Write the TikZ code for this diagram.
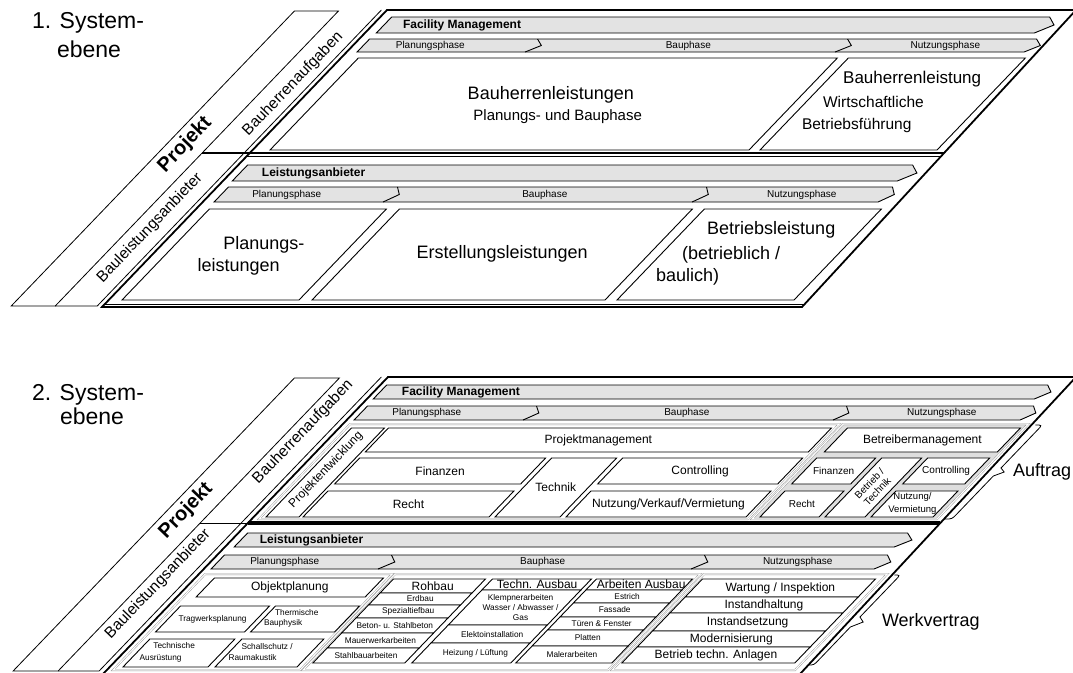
\documentclass[tikz,border=0pt]{standalone}
\usepackage{fontspec}
\setmainfont{Liberation Sans}
\newcommand\fsz[1]{\fontsize{#1}{#1}\selectfont}
% parallelogram cell in slanted coordinates: [style]{u left}{u right}{y top}{y bottom}
\newcommand\pbox[5][cell]{\draw[#1] (#2,#4) -- (#3,#4) -- (#3,#5) -- (#2,#5) -- cycle;}
% banner with pointed right end: {u left}{u right}{y top}{y bottom}{tip}
\newcommand\pbanner[5]{\draw[banner] (#1,#3) -- (#2,#3) -- ({#2+#5},{(#3+#4)/2}) -- (#2,#4) -- (#1,#4) -- cycle;}
% phase separator inside a banner: {u}{y top}{y bottom}{tip}
\newcommand\pchev[4]{\draw[chev] (#1,#2) -- ({#1+#4},{(#2+#3)/2}) -- (#1,#3);}
\tikzset{
  cell/.style={draw=black, line width=0.9pt, fill=white},
  banner/.style={draw=black, line width=0.9pt, fill=black!11},
  chev/.style={draw=black, line width=0.9pt},
  bandline/.style={draw=black, line width=0.8pt},
  frameline/.style={draw=black, line width=1.8pt},
  gframe/.style={draw=black!40, line width=0.45pt, double=white, double distance=1.1pt},
  brace/.style={draw=black, line width=0.8pt},
  txt/.style={inner sep=0pt, outer sep=0pt},
}
\begin{document}
\begin{tikzpicture}[x=1pt,y=-1pt]
\useasboundingbox (0,0) rectangle (1073,672);
\clip (0,0) rectangle (1073,672);

% ================= first system level =================
\node[txt, anchor=base west, font=\fsz{23}] (title1a) at (32,28) {1. System-};
\node[txt, anchor=base west, font=\fsz{23}] (title1b) at (57,57) {ebene};

\begin{scope}[xslant=0.96]
  \draw[bandline] (305,11) -- (349,11) -- (349,306) -- (305,306) -- cycle;
  \draw[bandline] (349,306) -- (391,306) -- (391,10);
  % client side
  \pbanner{408}{1066}{17}{33}{12}
  \pbanner{407}{1074}{39}{52}{10}
  \pchev{575}{39}{52}{10}
  \pchev{885}{39}{52}{10}
  \pbox{414}{893}{58}{150}
  \pbox{904}{1081}{58}{150}
  % contractor side
  \pbanner{406}{1071}{165}{181}{12}
  \pbanner{408}{1072}{187}{202}{9}
  \pchev{577}{187}{202}{9}
  \pchev{886}{187}{202}{9}
  \pbox{410}{587}{209}{300}
  \pbox{600}{893}{209}{300}
  \pbox{905}{1082}{209}{300}

  \node[txt, anchor=west, font=\bfseries\fsz{12}] (fm1) at (427,25) {Facility Management};
  \node[txt, font=\fsz{10}] (pp1a) at (474,45.5) {Planungsphase};
  \node[txt, font=\fsz{10}] (bp1a) at (732,45.5) {Bauphase};
  \node[txt, font=\fsz{10}] (np1a) at (989,45.5) {Nutzungsphase};
  \node[txt, font=\fsz{18}] (bhl1) at (642,95) {Bauherrenleistungen};
  \node[txt, font=\fsz{15}] (bhl1b) at (670,117) {Planungs- und Bauphase};
  \node[txt, anchor=west, font=\fsz{17}] (bhr1) at (919,79) {Bauherrenleistung};
  \node[txt, anchor=west, font=\fsz{15.5}] (bhr1b) at (921,102) {Wirtschaftliche};
  \node[txt, anchor=west, font=\fsz{15.5}] (bhr1c) at (922,125) {Betriebsführung};

  \node[txt, anchor=west, font=\bfseries\fsz{12}] (la1) at (428,173) {Leistungsanbieter};
  \node[txt, font=\fsz{10}] (pp1b) at (474,195) {Planungsphase};
  \node[txt, font=\fsz{10}] (bp1b) at (732,195) {Bauphase};
  \node[txt, font=\fsz{10}] (np1b) at (989,195) {Nutzungsphase};
  \node[txt, font=\fsz{18}] (pl1a) at (499,245) {Planungs-};
  \node[txt, font=\fsz{18}] (pl1b) at (495,267) {leistungen};
  \node[txt, font=\fsz{18}] (er1) at (746,254) {Erstellungsleistungen};
  \node[txt, anchor=west, font=\fsz{18}] (bl1a) at (928,230) {Betriebsleistung};
  \node[txt, anchor=west, font=\fsz{18}] (bl1b) at (927,255) {(betrieblich /};
  \node[txt, anchor=west, font=\fsz{18}] (bl1c) at (922,277) {baulich)};
\end{scope}

\draw[frameline] (387,10) -- (1076,10) -- (802,307) -- (102,307) -- cycle;
\draw[line width=2.2pt] (202,153) -- (944,153);
\draw[line width=0.7pt] (247,156.5) -- (941,156.5);
\draw[line width=0.7pt] (105,304) -- (805,304);

\node[txt, rotate=46.2, font=\bfseries\fsz{20}] (proj1) at (185,145) {Projekt};
\node[txt, rotate=46.2, font=\fsz{15.5}] (bha1) at (293,84) {Bauherrenaufgaben};
\node[txt, rotate=46.2, font=\fsz{15.5}] (bla1) at (150,228) {Bauleistungsanbieter};

% ================= second system level =================
\node[txt, anchor=base west, font=\fsz{23}] (title2a) at (32,400) {2. System-};
\node[txt, anchor=base west, font=\fsz{23}] (title2b) at (60,424) {ebene};

\begin{scope}[shift={(0,368)}, xslant=0.96]
  \draw[bandline] (304,10) -- (349,10) -- (349,303) -- (304,303) -- cycle;
  \draw[bandline] (349,303) -- (390,303) -- (390,9);
  \draw[bandline] (349,155) -- (397,155);

  % client side
  \pbanner{403}{1064}{17}{31}{10}
  \pbanner{404}{1070}{38}{52}{9}
  \pchev{573}{38}{52}{9}
  \pchev{883}{38}{52}{9}
  \draw[gframe] (404,56) -- (893,56) -- (893,151) -- (404,151) -- cycle;
  \draw[gframe, fill=black!13] (897,56) -- (1082,56) -- (1082,151) -- (897,151) -- cycle;
  \pbox{409}{442}{60}{149}
  \pbox{446}{889}{60}{84}
  \pbox{446}{632}{90}{116}
  \pbox{446}{632}{123}{149}
  \pbox{638}{703}{90}{149}
  \pbox{709}{889}{90}{116}
  \pbox{709}{889}{123}{149}
  \pbox{905}{1078}{60}{84}
  \pbox{903}{962}{90}{116}
  \pbox{903}{962}{123}{149}
  \pbox{968}{1008}{90}{149}
  \pbox{1014}{1076}{90}{116}
  \pbox{1014}{1076}{123}{149}

  % contractor side
  \pbanner{406}{1066}{165}{179}{11}
  \pbanner{404}{1067}{187}{201}{10}
  \pchev{571}{187}{201}{10}
  \pchev{884}{187}{201}{10}
  \draw[gframe] (403,206) -- (590,206) -- (590,302) -- (403,302) -- cycle;
  \draw[gframe] (593,206) -- (898,206) -- (898,302) -- (593,302) -- cycle;
  \draw[gframe] (902,206) -- (1085,206) -- (1085,302) -- (902,302) -- cycle;
  % planning
  \pbox{416}{585}{210}{229}
  \pbox{409}{498}{238}{264}
  \pbox{504}{588}{238}{264}
  \pbox{410}{495}{271}{299}
  \pbox{502}{584}{271}{299}
  % shell construction
  \pbox{596}{688}{211}{225}
  \pbox{596}{688}{225}{237}
  \pbox{596}{688}{237}{250}
  \pbox{596}{688}{250}{265}
  \pbox{596}{688}{265}{280}
  \pbox{596}{688}{280}{295}
  % building services
  \pbox{695}{794}{211}{222}
  \pbox{695}{794}{222}{257}
  \pbox{695}{794}{257}{275}
  \pbox{695}{794}{275}{295}
  % finishing works
  \pbox{799}{895}{211}{222}
  \pbox{799}{895}{222}{235}
  \pbox{799}{895}{235}{249}
  \pbox{799}{895}{249}{262}
  \pbox{799}{895}{262}{278}
  \pbox{799}{895}{278}{295}
  % operation
  \pbox{905}{1078}{211}{229}
  \pbox{905}{1078}{229}{245}
  \pbox{905}{1078}{245}{263}
  \pbox{905}{1078}{263}{279}
  \pbox{905}{1078}{279}{295}

  % braces
  \draw[brace] (1090,57) .. controls (1097,57) .. (1097,62) -- (1097,100) -- (1104,104) -- (1097,108) -- (1097,146) .. controls (1097,151) .. (1090,151);
  \draw[brace] (1093,207) .. controls (1099,207) .. (1099,212) -- (1099,249) -- (1107,254) -- (1099,259) -- (1099,292) .. controls (1099,297) .. (1093,297);

  \node[txt, anchor=west, font=\bfseries\fsz{12}] (fm2) at (425,24) {Facility Management};
  \node[txt, font=\fsz{10}] (pp2a) at (470,45) {Planungsphase};
  \node[txt, font=\fsz{10}] (bp2a) at (730,45) {Bauphase};
  \node[txt, font=\fsz{10}] (np2a) at (985,45) {Nutzungsphase};
  \node[txt, font=\fsz{12}] (pm2) at (667.5,72) {Projektmanagement};
  \node[txt, font=\fsz{12}] (fi2) at (539,103) {Finanzen};
  \node[txt, font=\fsz{12}] (re2) at (539,136) {Recht};
  \node[txt, font=\fsz{12}] (te2) at (670.5,119.5) {Technik};
  \node[txt, font=\fsz{12}] (co2) at (799,103) {Controlling};
  \node[txt, font=\fsz{12}] (nv2) at (799,136) {Nutzung/Verkauf/Vermietung};
  \node[txt, font=\fsz{12}] (bm2) at (991.5,72) {Betreibermanagement};
  \node[txt, font=\fsz{10}] (fi2b) at (932.5,103) {Finanzen};
  \node[txt, font=\fsz{10}] (re2b) at (932.5,136) {Recht};
  \node[txt, font=\fsz{10}] (co2b) at (1045,103) {Controlling};
  \node[txt, align=center, font=\fontsize{9.5}{13}\selectfont] (nv2b) at (1043,136) {Nutzung/\\Vermietung};
  \node[txt, rotate=46, align=center, font=\fontsize{10}{11}\selectfont] (bt2) at (988,119.5) {Betrieb /\\Technik};

  \node[txt, anchor=west, font=\bfseries\fsz{12}] (la2) at (425,172) {Leistungsanbieter};
  \node[txt, font=\fsz{10}] (pp2b) at (471,194) {Planungsphase};
  \node[txt, font=\fsz{10}] (bp2b) at (729,194) {Bauphase};
  \node[txt, font=\fsz{10}] (np2b) at (984,194) {Nutzungsphase};
  \node[txt, font=\fsz{12}] (op2) at (500.5,219.5) {Objektplanung};
  \node[txt, font=\fsz{8.3}] (tw2) at (453.5,251) {Tragwerksplanung};
  \node[txt, font=\fsz{8.3}] (th2a) at (532,245) {Thermische};
  \node[txt, font=\fsz{8.3}] (th2b) at (528,255) {Bauphysik};
  \node[txt, font=\fsz{8.3}] (ta2a) at (441,278) {Technische};
  \node[txt, font=\fsz{8.3}] (ta2b) at (439,290) {Ausrüstung};
  \node[txt, font=\fsz{8.3}] (ss2a) at (535,279) {Schallschutz /};
  \node[txt, font=\fsz{8.3}] (ss2b) at (531,290) {Raumakustik};

  \node[txt, font=\fsz{12}] (rb2) at (642,218) {Rohbau};
  \node[txt, font=\fsz{8.3}] (rb2a) at (642,231) {Erdbau};
  \node[txt, font=\fsz{8.3}] (rb2b) at (642,243.5) {Spezialtiefbau};
  \node[txt, font=\fsz{8.3}] (rb2c) at (642,257.5) {Beton- u. Stahlbeton};
  \node[txt, font=\fsz{8.3}] (rb2d) at (642,272.5) {Mauerwerkarbeiten};
  \node[txt, font=\fsz{8.3}] (rb2e) at (642,287.5) {Stahlbauarbeiten};

  \node[txt, font=\fsz{12}] (tb2) at (745,216.5) {Techn. Ausbau};
  \node[txt, align=center, font=\fontsize{8.3}{10}\selectfont] (tb2a) at (751,240) {Klempnerarbeiten\\Wasser / Abwasser /\\Gas};
  \node[txt, font=\fsz{8.3}] (tb2b) at (748,266.5) {Elektoinstallation};
  \node[txt, font=\fsz{8.3}] (tb2c) at (749,285) {Heizung / Lüftung};

  \node[txt, font=\fsz{12}] (ab2) at (849,216.5) {Arbeiten Ausbau};
  \node[txt, font=\fsz{8.3}] (ab2a) at (847,229) {Estrich};
  \node[txt, font=\fsz{8.3}] (ab2b) at (847,242) {Fassade};
  \node[txt, font=\fsz{8.3}] (ab2c) at (847,255.5) {Türen \& Fenster};
  \node[txt, font=\fsz{8.3}] (ab2d) at (847,270) {Platten};
  \node[txt, font=\fsz{8.3}] (ab2e) at (847,286.5) {Malerarbeiten};

  \node[txt, font=\fsz{12}] (wa2) at (991.5,220) {Wartung / Inspektion};
  \node[txt, font=\fsz{12}] (ih2) at (991.5,237) {Instandhaltung};
  \node[txt, font=\fsz{12}] (is2) at (991.5,254) {Instandsetzung};
  \node[txt, font=\fsz{12}] (mo2) at (991.5,271) {Modernisierung};
  \node[txt, font=\fsz{12}] (bt2b) at (991.5,287) {Betrieb techn. Anlagen};
\end{scope}

\draw[frameline] (388,377) -- (1076,377) -- (800,674) -- (103,674) -- cycle;
\draw[line width=3.4pt] (248,523) -- (940,523);

\node[txt, rotate=46, font=\fsz{12}] (pe2) at (326,470) {Projektentwicklung};
\node[txt, rotate=46.2, font=\bfseries\fsz{20}] (proj2) at (186,511) {Projekt};
\node[txt, rotate=46.2, font=\fsz{15.5}] (bha2) at (303,432) {Bauherrenaufgaben};
\node[txt, rotate=46.2, font=\fsz{15.5}] (bla2) at (158,584) {Bauleistungsanbieter};
\node[txt, anchor=west, font=\fsz{18}] (auf) at (1013,472) {Auftrag};
\node[txt, anchor=west, font=\fsz{18}] (wv) at (882,622) {Werkvertrag};
\end{tikzpicture}
\end{document}
